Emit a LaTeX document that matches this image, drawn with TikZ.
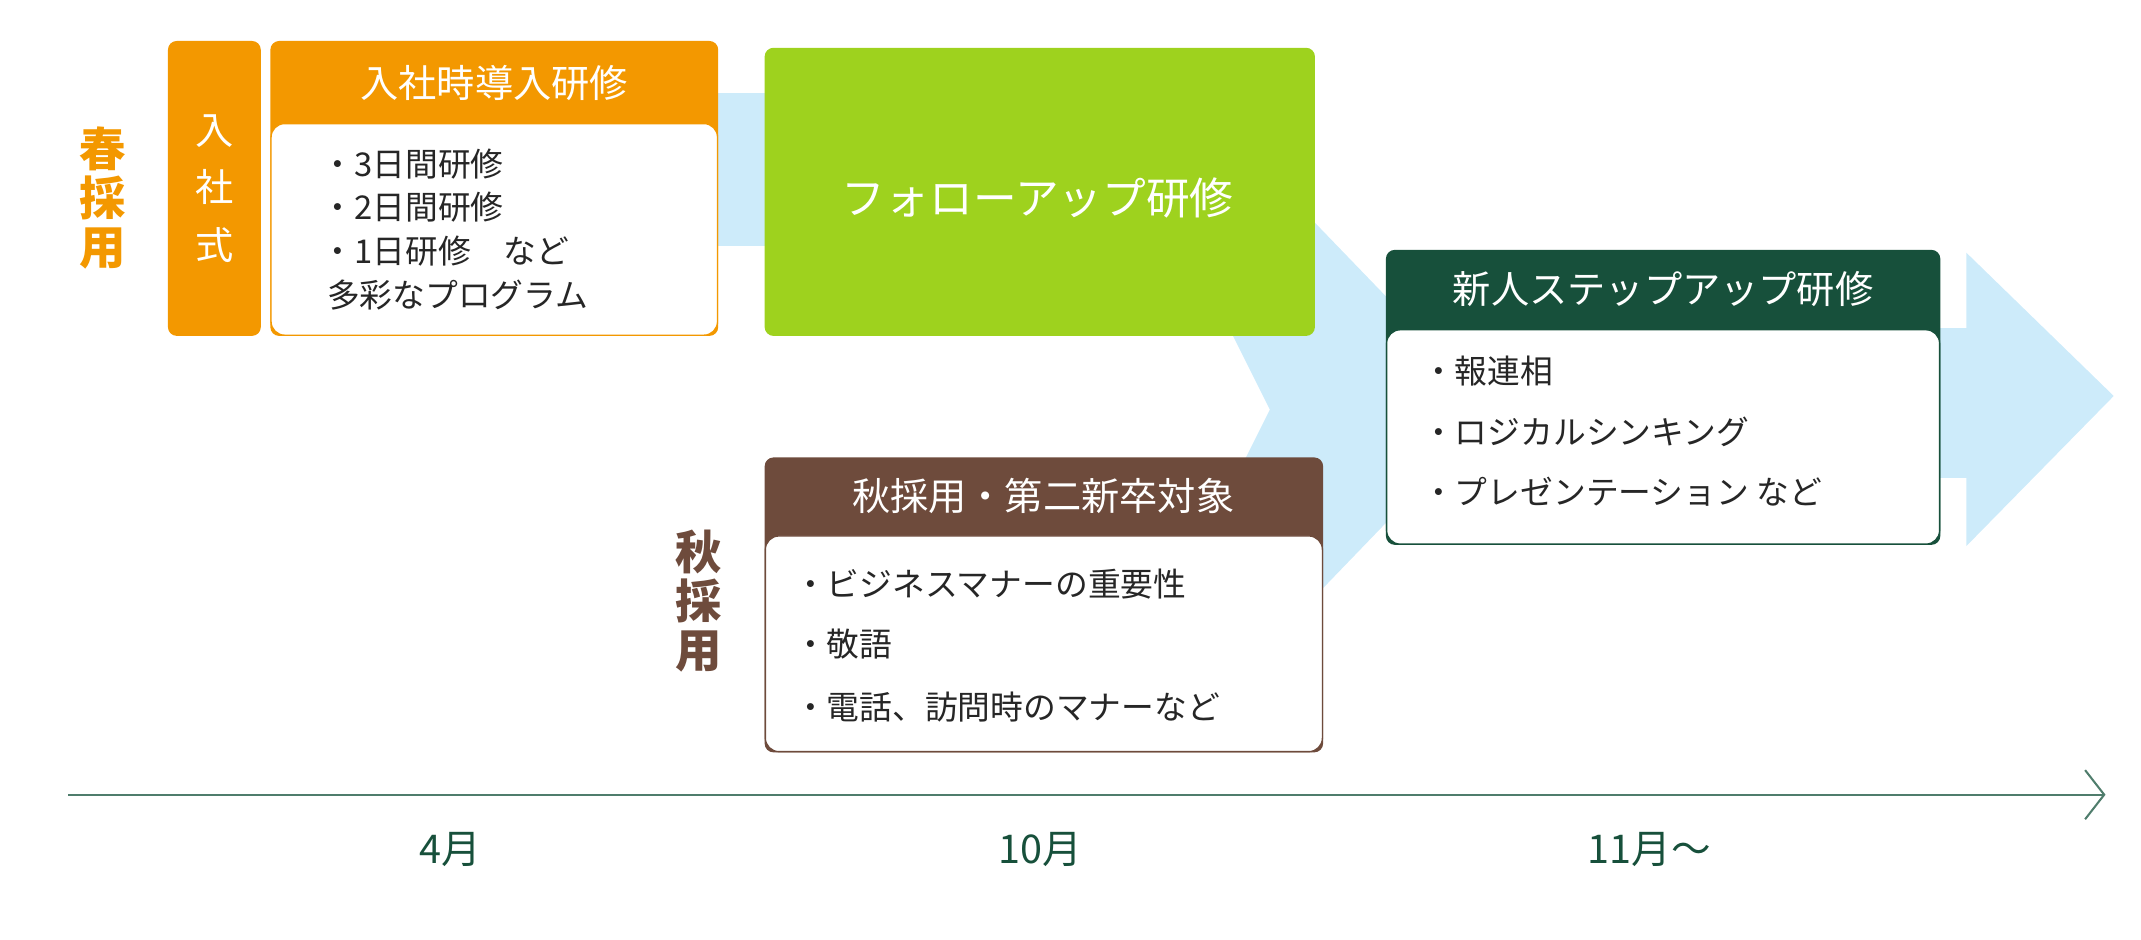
\documentclass[tikz,border=0pt]{standalone}
\usepackage{fontspec}
\setmainfont{Noto Sans CJK JP}
\usetikzlibrary{positioning,arrows.meta}
\definecolor{haruorange}{HTML}{F39800}
\definecolor{followgreen}{HTML}{9ED21E}
\definecolor{akibrown}{HTML}{6E4B3C}
\definecolor{stepgreen}{HTML}{17503B}
\definecolor{paleblue}{HTML}{CDEBFA}
\definecolor{axisgreen}{HTML}{4F7D6C}
\tikzset{
  outerbox/.style={draw=#1, fill=#1, rounded corners=6pt, line width=1pt, anchor=north west, inner sep=0pt},
  bodybox/.style={draw=#1, fill=white, rounded corners=10pt, line width=1pt, anchor=north west, inner sep=0pt},
  headtext/.style={text=white, font=\fontsize{28}{30}\selectfont},
  itemtext/.style={anchor=west, font=\fontsize{24}{28}\selectfont, text=black!85},
  monthtext/.style={font=\fontsize{29}{32}\selectfont, text=stepgreen},
  verttext/.style={align=center, font=\fontsize{34}{40}\bfseries\selectfont},
}
\begin{document}
\begin{tikzpicture}[x=1pt,y=-1pt]
\useasboundingbox (0,0) rectangle (1568,688);

% background arrows
\fill[paleblue] (500,68) rectangle (570,180);
\fill[paleblue] (860,160) -- (960,160) -- (1095,300) -- (960,440) -- (860,440) -- (930,300) -- cycle;
\fill[paleblue] (1400,240) rectangle (1445,350);
\fill[paleblue] (1440,185) -- (1548,290) -- (1440,400) -- cycle;

% spring
\node[verttext, text=haruorange] (haru) at (75,145) {春\\[-4pt]採\\[-4pt]用};
\node[outerbox=haruorange, minimum width=67pt, minimum height=215pt] (nyusha) at (123,30) {};
\node[verttext, text=white, font=\fontsize{28}{32}\selectfont] (nyushalbl) at (nyusha.center) {入\\[10pt]社\\[10pt]式};
\node[outerbox=haruorange, minimum width=327pt, minimum height=215pt] (donyu) at (198,30) {};
\node[headtext] (donyuhead) at (362,61) {入社時導入研修};
\node[bodybox=haruorange, minimum width=327pt, minimum height=155pt] (donyubody) at (198,90) {};
\node[itemtext] (d1) at (232,120) {・3日間研修};
\node[itemtext] (d2) at (232,152) {・2日間研修};
\node[itemtext] (d3) at (232,184) {・1日研修\quad など};
\node[itemtext] (d4) at (236,216) {多彩なプログラム};

% follow up
\node[outerbox=followgreen, minimum width=402pt, minimum height=210pt] (follow) at (560,35) {};
\node[headtext, font=\fontsize{32}{34}\selectfont] (followlbl) at (760,145) {フォローアップ研修};

% autumn
\node[verttext, text=akibrown] (aki) at (512,440) {秋\\[-4pt]採\\[-4pt]用};
\node[outerbox=akibrown, minimum width=408pt, minimum height=215pt] (akibox) at (560,335) {};
\node[headtext] (akihead) at (764,363) {秋採用・第二新卒対象};
\node[bodybox=akibrown, minimum width=408pt, minimum height=158pt] (akibody) at (560,392) {};
\node[itemtext] (a1) at (578,428) {・ビジネスマナーの重要性};
\node[itemtext] (a2) at (578,472) {・敬語};
\node[itemtext] (a3) at (578,518) {・電話、訪問時のマナーなど};

% step up
\node[outerbox=stepgreen, minimum width=405pt, minimum height=215pt] (stepup) at (1015,183) {};
\node[headtext] (stephead) at (1218,212) {新人ステップアップ研修};
\node[bodybox=stepgreen, minimum width=405pt, minimum height=157pt] (stepbody) at (1015,241) {};
\node[itemtext] (s1) at (1038,272) {・報連相};
\node[itemtext] (s2) at (1038,316) {・ロジカルシンキング};
\node[itemtext] (s3) at (1038,360) {・プレゼンテーション など};

% time axis
\coordinate (axstart) at (50,582);
\coordinate (axend) at (1542,582);
\draw[axisgreen, line width=1.5pt, -{Straight Barb[length=14pt, width=36pt, line width=1.5pt]}] (axstart) -- (axend);
\node[monthtext] (m4) at (330,622) {4月};
\node[monthtext] (m10) at (762,622) {10月};
\node[monthtext] (m11) at (1208,622) {11月〜};
\end{tikzpicture}
\end{document}
